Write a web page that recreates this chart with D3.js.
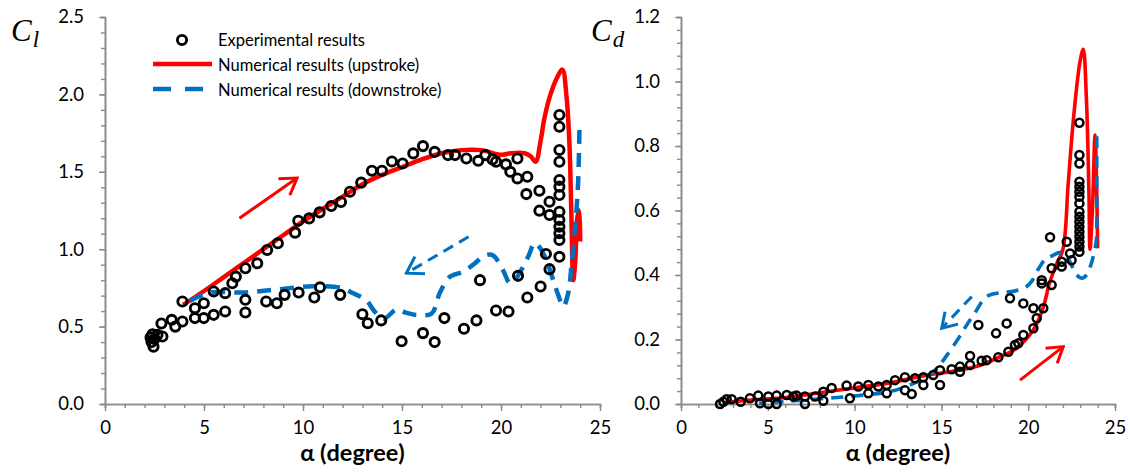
<!DOCTYPE html>
<html>
<head>
<meta charset="utf-8">
<script src="https://cdn.jsdelivr.net/npm/d3@7"></script>
<style>
  body { margin: 0; background: #fff; }
  svg { font-family: Lato, "Open Sans", sans-serif; }
</style>
</head>
<body>
<svg id="chart" width="1130" height="472"></svg>
<script>
// ---- data (alpha in degrees) ----
const alphaTicks = [0, 5, 10, 15, 20, 25];
const clTicks = [0.0, 0.5, 1.0, 1.5, 2.0, 2.5];
const cdTicks = [0.0, 0.2, 0.4, 0.6, 0.8, 1.0, 1.2];

const clExperimental = [
  [2.3,0.43],[2.35,0.40],[2.4,0.45],[2.45,0.37],[2.5,0.42],[2.65,0.447],[2.9,0.436],[2.85,0.52],
  [3.37,0.544],[3.55,0.50],[3.91,0.533],[3.91,0.662],[4.54,0.619],[4.54,0.555],[4.99,0.651],[4.99,0.555],
  [5.49,0.727],[5.49,0.576],[6.07,0.716],[6.07,0.598],[6.43,0.78],[6.61,0.823],[7.09,0.877],[7.09,0.673],
  [7.09,0.591],[7.69,0.909],[8.14,0.662],[8.19,0.995],[8.68,0.651],[8.73,1.038],[9.07,0.705],[9.6,1.107],
  [9.76,1.184],[9.78,0.72],[10.31,1.199],[10.57,0.688],[10.84,1.238],[10.86,0.754],[11.43,1.279],[11.88,0.705],
  [11.92,1.305],[12.37,1.371],[12.94,1.43],[13.0,0.58],[13.27,0.522],[13.48,1.507],[13.99,1.507],[13.95,0.54],
  [14.49,1.567],[15.03,1.554],[14.98,0.405],[15.57,1.619],[16.06,1.666],[16.06,0.458],[16.65,1.629],[16.65,0.40],
  [17.14,0.555],[17.32,1.608],[17.68,1.608],[18.13,0.486],[18.25,1.586],[18.76,0.54],[18.85,1.571],[18.94,0.80],
  [19.21,1.608],[19.57,1.58],[19.75,0.604],[19.75,1.565],[20.25,1.548],[20.38,0.598],[20.47,1.50],[20.83,1.457],
  [20.83,1.586],[20.86,0.828],[21.28,1.356],[21.33,1.468],[21.33,0.688],[21.94,1.378],[21.94,1.249],[22.0,0.759],
  [22.27,0.969],[22.45,1.307],[22.45,1.221],[22.45,0.871],
  [22.95,1.867],[22.95,1.791],[22.95,1.641],[22.95,1.565],[22.95,1.447],[22.95,1.404],[22.95,1.35],[22.95,1.242],
  [22.95,1.189],[22.95,1.145],[22.95,1.103],[22.95,1.059],[22.95,0.951]
];
const clUpstroke = [
  [3.95,0.64],[5,0.73],[6,0.82],[7,0.91],[8,1.0],[9,1.09],[10,1.18],[11,1.26],[12,1.34],[13,1.42],
  [14,1.48],[15,1.53],[16,1.58],[17,1.62],[18,1.64],[19,1.64],[20,1.61],[20.5,1.62],[21.2,1.62],[21.5,1.60],
  [21.75,1.565],[22.0,1.70],[22.2,1.85],[22.5,2.0],[22.8,2.1],[23.1,2.16],[23.3,2.0],[23.45,1.7],[23.55,1.25],
  [23.65,0.80],[23.75,0.92],[23.85,1.2],[23.95,1.25],[24.0,1.05]
];
const clDownstroke = [
  [23.96,1.77],[23.9,1.45],[23.8,1.23],[23.57,0.91],[23.4,0.72],[23.15,0.63],[22.9,0.70],[22.64,0.80],
  [22.22,0.95],[21.9,1.02],[21.7,1.04],[21.4,0.96],[21.13,0.89],[20.7,0.80],[20.45,0.78],[20.1,0.865],
  [19.6,0.96],[19.2,0.96],[18.6,0.90],[18.1,0.855],[17.4,0.82],[16.9,0.715],[16.5,0.585],[15.74,0.575],
  [15.2,0.59],[14.73,0.61],[14.06,0.55],[13.6,0.60],[13.2,0.67],[12.54,0.715],[11.9,0.75],[10.5,0.76],
  [8.7,0.74],[7.0,0.72],[5.3,0.72],[4.5,0.68],[3.95,0.64]
];
const clArrowUp = [[6.79,1.20],[9.70,1.46]];
const clArrowDown = [[18.36,1.08],[15.22,0.845]];

const cdExperimental = [
  [2.25,0.0],[2.44,0.007],[2.63,0.015],[2.92,0.015],[3.44,0.007],[3.97,0.018],[4.45,0.026],[4.55,0.002],
  [5.03,0.023],[5.03,0.0],[5.51,0.026],[5.51,0.0],[6.09,0.028],[6.47,0.023],[6.66,0.026],[7.14,0.023],
  [7.14,0.0],[7.72,0.023],[8.2,0.038],[8.2,0.01],[8.68,0.05],[9.54,0.057],[9.73,0.018],[10.21,0.054],
  [10.79,0.059],[10.79,0.033],[11.37,0.054],[11.85,0.059],[11.85,0.033],[12.33,0.074],[12.9,0.083],[12.9,0.043],
  [13.29,0.031],[13.48,0.08],[13.96,0.083],[13.96,0.059],[14.53,0.09],[14.92,0.105],[14.92,0.059],[15.59,0.108],
  [16.07,0.116],[16.07,0.1],[16.65,0.149],[16.65,0.121],[17.32,0.134],[17.61,0.136],[17.13,0.245],[18.15,0.219],
  [18.28,0.145],[18.76,0.25],[18.95,0.328],[18.86,0.162],[19.24,0.183],[19.43,0.188],[19.72,0.214],[19.72,0.312],
  [20.3,0.235],[20.3,0.297],[20.49,0.266],[20.87,0.297],[20.78,0.374],[20.78,0.384],[21.35,0.369],[21.35,0.421],
  [21.26,0.517],[21.93,0.426],[21.93,0.441],[22.22,0.503],[22.41,0.467],[22.5,0.446],
  [22.95,0.872],[22.95,0.772],[22.95,0.746],[22.95,0.689],[22.95,0.674],[22.95,0.658],[22.95,0.643],[22.95,0.622],
  [22.95,0.596],[22.95,0.581],[22.95,0.565],[22.95,0.55],[22.95,0.534],[22.95,0.519],[22.95,0.503],[22.95,0.488],
  [22.95,0.472]
];
const cdUpstroke = [
  [2.5,0.005],[4,0.012],[6,0.02],[8,0.035],[10,0.05],[12,0.065],[14,0.088],[15.5,0.1],[17,0.116],[18.4,0.147],
  [19.3,0.172],[20.3,0.23],[20.87,0.30],[21.2,0.37],[21.6,0.43],[22.0,0.48],[22.3,0.68],[22.6,0.88],[22.98,1.06],
  [23.17,1.10],[23.35,0.95],[23.5,0.65],[23.56,0.48],[23.7,0.6],[23.85,0.834],[23.95,0.65],[24.0,0.483]
];
const cdDownstroke = [
  [23.95,0.83],[23.95,0.65],[23.93,0.51],[23.8,0.47],[23.6,0.43],[23.35,0.40],[23.1,0.39],[22.8,0.40],
  [22.5,0.43],[22.2,0.46],[21.85,0.47],[21.4,0.46],[21.0,0.45],[20.6,0.42],[20.2,0.38],[19.9,0.364],
  [19.2,0.35],[18.4,0.345],[17.6,0.333],[16.9,0.28],[16.4,0.24],[16.0,0.205],[15.3,0.15],[14.73,0.11],
  [14.0,0.08],[13,0.055],[12,0.038],[10,0.025],[8,0.016],[6.5,0.01],[5.5,0.006],[4.5,0.002]
];
const cdArrowUp = [[19.53,0.074],[22.02,0.178]];
const cdArrowDown = [[16.75,0.333],[15.02,0.235]];

// ---- drawing ----
const svg = d3.select("#chart");
const gray = "#8c8c8c";
const red = "#ff0000";
const blue = "#0070c0";

const defs = svg.append("defs");
function arrowMarker(id, color, size) {
  defs.append("marker")
    .attr("id", id)
    .attr("viewBox", "-20 -12 22 24")
    .attr("refX", 0).attr("refY", 0)
    .attr("markerWidth", 22 * size).attr("markerHeight", 24 * size)
    .attr("markerUnits", "userSpaceOnUse")
    .attr("orient", "auto")
    .append("path")
    .attr("d", "M-15,-9.5L0,0L-15,9.5")
    .attr("fill", "none")
    .attr("stroke", color)
    .attr("stroke-width", 3 / size);
}
arrowMarker("arRedL", red, 1.05);
arrowMarker("arBlueL", blue, 1.05);
arrowMarker("arRedR", red, 1.0);
arrowMarker("arBlueR", blue, 0.95);

function panel(o) {
  const x = d3.scaleLinear().domain([0, 25]).range(o.xRange);
  const y = d3.scaleLinear().domain([0, o.yMax]).range([404, 17]);
  const g = svg.append("g");

  // minor ticks
  g.append("g")
    .attr("transform", "translate(0,404)")
    .call(d3.axisBottom(x).tickValues(d3.range(0, 26, 1)).tickSize(4).tickFormat(""));
  g.append("g")
    .attr("transform", `translate(${o.xRange[0]},0)`)
    .call(d3.axisLeft(y).tickValues(d3.range(0, o.yMax + 1e-9, o.yMinor)).tickSize(4).tickFormat(""));

  // major ticks + labels
  g.append("g")
    .attr("transform", "translate(0,404)")
    .call(d3.axisBottom(x).tickValues(alphaTicks).tickSize(7).tickPadding(10).tickSizeOuter(0));
  g.append("g")
    .attr("transform", `translate(${o.xRange[0]},0)`)
    .call(d3.axisLeft(y).tickValues(o.yTicks).tickSize(6).tickPadding(15).tickSizeOuter(0)
      .tickFormat(d3.format(".1f")));

  g.selectAll(".domain").attr("stroke", gray).attr("stroke-width", 1.6);
  g.selectAll(".tick line").attr("stroke", gray).attr("stroke-width", 1.4);
  g.selectAll(".tick text").attr("fill", "#000").style("font-size", "18.5px")
    .style("font-family", "Lato, sans-serif");

  const line = d3.line()
    .x(d => x(d[0])).y(d => y(d[1]))
    .curve(d3.curveCatmullRom.alpha(0.5));

  g.append("path").datum(o.up)
    .attr("d", line).attr("fill", "none")
    .attr("stroke", red).attr("stroke-width", o.lw);
  g.append("path").datum(o.down)
    .attr("d", line).attr("fill", "none")
    .attr("stroke", blue).attr("stroke-width", o.lw)
    .attr("stroke-dasharray", o.dash);

  g.append("g").selectAll("circle")
    .data(o.exp)
    .join("circle")
    .attr("cx", d => x(d[0])).attr("cy", d => y(d[1]))
    .attr("r", o.r)
    .attr("fill", "none")
    .attr("stroke", "#000")
    .attr("stroke-width", o.cw);

  const straight = d3.line().x(d => x(d[0])).y(d => y(d[1]));
  g.append("path").datum(o.arrowUp)
    .attr("d", straight).attr("fill", "none")
    .attr("stroke", red).attr("stroke-width", 3)
    .attr("marker-end", `url(#${o.mUp})`);
  g.append("path").datum(o.arrowDown)
    .attr("d", straight).attr("fill", "none")
    .attr("stroke", blue).attr("stroke-width", 3)
    .attr("stroke-dasharray", "11,7")
    .attr("marker-end", `url(#${o.mDown})`);

  // axis title
  g.append("text")
    .attr("x", (o.xRange[0] + o.xRange[1]) / 2)
    .attr("y", 461)
    .attr("text-anchor", "middle")
    .style("font-size", "23.5px")
    .style("font-weight", "bold")
    .text("α (degree)");

  // C label
  const lab = g.append("text")
    .attr("x", o.labX).attr("y", 41)
    .style("font-family", "'Liberation Serif', 'DejaVu Serif', serif")
    .style("font-style", "italic")
    .style("font-size", "31px");
  lab.append("tspan").text("C");
  lab.append("tspan").attr("dy", 6).attr("dx", 1).style("font-size", "23px").text(o.sub);
}

panel({
  xRange: [105, 600], yMax: 2.5, yTicks: clTicks, yMinor: 0.1,
  up: clUpstroke, down: clDownstroke, exp: clExperimental,
  arrowUp: clArrowUp, arrowDown: clArrowDown, mUp: "arRedL", mDown: "arBlueL",
  lw: 4.5, dash: "14,9", r: 4.6, cw: 2.9, labX: 11, sub: "l"
});
panel({
  xRange: [681, 1115], yMax: 1.2, yTicks: cdTicks, yMinor: 0.04,
  up: cdUpstroke, down: cdDownstroke, exp: cdExperimental,
  arrowUp: cdArrowUp, arrowDown: cdArrowDown, mUp: "arRedR", mDown: "arBlueR",
  lw: 3.6, dash: "12,8", r: 4.0, cw: 2.5, labX: 591, sub: "d"
});

// legend
const lg = svg.append("g").style("font-size", "16.5px");
lg.append("circle").attr("cx", 182).attr("cy", 40).attr("r", 4.6)
  .attr("fill", "none").attr("stroke", "#000").attr("stroke-width", 2.9);
lg.append("line").attr("x1", 153).attr("x2", 212).attr("y1", 64).attr("y2", 64)
  .attr("stroke", red).attr("stroke-width", 4.5);
lg.append("line").attr("x1", 153).attr("x2", 212).attr("y1", 89).attr("y2", 89)
  .attr("stroke", blue).attr("stroke-width", 4.5).attr("stroke-dasharray", "18,14");
const legendLabels = ["Experimental results", "Numerical results (upstroke)", "Numerical results (downstroke)"];
lg.selectAll("text").data(legendLabels).join("text")
  .attr("x", 218).attr("y", (d, i) => 40 + i * 25)
  .attr("dy", "0.35em")
  .text(d => d);
</script>
</body>
</html>
